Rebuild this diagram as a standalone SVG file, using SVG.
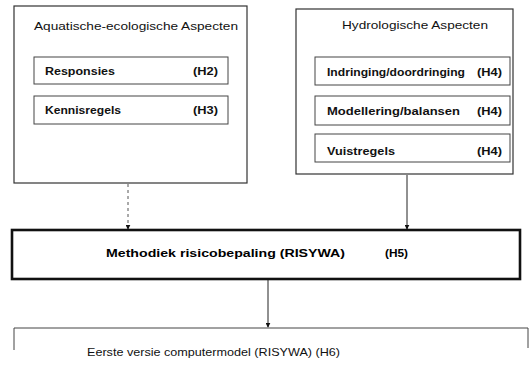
<svg xmlns="http://www.w3.org/2000/svg" width="529" height="375" viewBox="0 0 529 375">
  <style>
    .frame { fill: none; stroke: #333; stroke-width: 1.2; }
    .item { fill: none; stroke: #444; stroke-width: 1; }
    .main { fill: none; stroke: #111; stroke-width: 2.6; }
    .title { font-family: "Liberation Sans", Arial, sans-serif; font-size: 11px; fill: #111; }
    .label { font-family: "Liberation Sans", Arial, sans-serif; font-size: 11.5px; font-weight: bold; fill: #111; }
    .mlabel { font-family: "Liberation Sans", Arial, sans-serif; font-size: 11px; font-weight: bold; fill: #000; }
    .blabel { font-family: "Liberation Sans", Arial, sans-serif; font-size: 11px; fill: #111; }
    .edge { fill: none; stroke: #222; stroke-width: 1; }
    .edge-dash { fill: none; stroke: #555; stroke-width: 1; stroke-dasharray: 3 3; }
  </style>
  <defs>
    <marker id="arrow" viewBox="0 0 8 8" refX="7" refY="4" markerWidth="5" markerHeight="5" orient="auto">
      <path d="M0,0 L8,4 L0,8 z" fill="#111"/>
    </marker>
  </defs>
  <rect width="529" height="375" fill="#fff"/>

  <!-- aquatic-ecological group -->
  <g id="aquatisch">
    <rect class="frame" x="14" y="6" width="233" height="177"/>
    <text class="title" x="34" y="30" textLength="204" lengthAdjust="spacingAndGlyphs">Aquatische-ecologische Aspecten</text>
  </g>
  <g id="responsies">
    <rect class="item" x="34" y="57" width="194" height="27"/>
    <text class="label" x="45" y="75" textLength="70" lengthAdjust="spacingAndGlyphs">Responsies</text>
    <text class="label" x="193" y="75" textLength="25" lengthAdjust="spacingAndGlyphs">(H2)</text>
  </g>
  <g id="kennisregels">
    <rect class="item" x="34" y="96" width="194" height="28"/>
    <text class="label" x="45" y="114" textLength="76" lengthAdjust="spacingAndGlyphs">Kennisregels</text>
    <text class="label" x="193" y="114" textLength="25" lengthAdjust="spacingAndGlyphs">(H3)</text>
  </g>

  <!-- hydrological group -->
  <g id="hydrologisch">
    <rect class="frame" x="296" y="9" width="217" height="165"/>
    <text class="title" x="342" y="29" textLength="146" lengthAdjust="spacingAndGlyphs">Hydrologische Aspecten</text>
  </g>
  <g id="indringing">
    <rect class="item" x="315" y="57" width="195" height="28"/>
    <text class="label" x="327" y="76" textLength="138" lengthAdjust="spacingAndGlyphs">Indringing/doordringing</text>
    <text class="label" x="477" y="76" textLength="25" lengthAdjust="spacingAndGlyphs">(H4)</text>
  </g>
  <g id="modellering">
    <rect class="item" x="315" y="96" width="195" height="29"/>
    <text class="label" x="327" y="115" textLength="133" lengthAdjust="spacingAndGlyphs">Modellering/balansen</text>
    <text class="label" x="477" y="115" textLength="25" lengthAdjust="spacingAndGlyphs">(H4)</text>
  </g>
  <g id="vuistregels">
    <rect class="item" x="315" y="134" width="195" height="28"/>
    <text class="label" x="327" y="155" textLength="68" lengthAdjust="spacingAndGlyphs">Vuistregels</text>
    <text class="label" x="477" y="155" textLength="25" lengthAdjust="spacingAndGlyphs">(H4)</text>
  </g>

  <!-- method block -->
  <g id="methodiek">
    <rect class="main" x="12" y="230" width="508" height="49"/>
    <text class="mlabel" x="106" y="257" textLength="239" lengthAdjust="spacingAndGlyphs">Methodiek risicobepaling (RISYWA)</text>
    <text class="mlabel" x="385" y="257" textLength="23" lengthAdjust="spacingAndGlyphs">(H5)</text>
  </g>

  <!-- computer model (runs off the lower edge) -->
  <g id="computermodel">
    <path class="item" d="M14,350 V328 H528 V348" stroke="#666"/>
    <text class="blabel" x="87" y="356" textLength="253" lengthAdjust="spacingAndGlyphs">Eerste versie computermodel (RISYWA)  (H6)</text>
  </g>

  <!-- connectors -->
  <g id="connectors">
    <line class="edge-dash" x1="128" y1="184" x2="128" y2="229" marker-end="url(#arrow)"/>
    <line class="edge" x1="407" y1="175" x2="407" y2="229" marker-end="url(#arrow)"/>
    <line class="edge" x1="268" y1="280" x2="268" y2="327" marker-end="url(#arrow)"/>
  </g>
</svg>
